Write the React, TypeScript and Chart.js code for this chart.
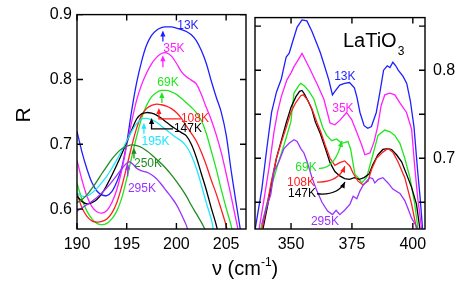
import React, { useEffect, useRef } from "react";
import { Chart, registerables } from "chart.js";
Chart.register(...registerables);

const FONT = '"Liberation Sans", Arial, Helvetica, sans-serif';

// ---- axis ticks ----
const leftXTicks = [190, 195, 200, 205];
const leftYTicks = [0.6, 0.7, 0.8, 0.9];
const rightXTicks = [350, 375, 400];
const rightYLabels = [0.7, 0.8];
const rightYMarks = [0.65, 0.7, 0.75, 0.8, 0.85];

// ---- colours per temperature ----
const C13 = "#1f1fff";
const C35 = "#ff1fff";
const C69 = "#1fe61f";
const C108 = "#ff1f1f";
const C147 = "#000000";
const C195 = "#1fe6ff";
const C250 = "#1f8c1f";
const C295 = "#9933ff";

// ---- left panel (190-207 cm-1) ----
const L13 = [[190.0,0.72],[190.5,0.688],[191.0,0.662],[191.5,0.641],[192.0,0.628],[192.5,0.622],[193.0,0.621],[193.5,0.627],[194.0,0.642],[194.5,0.664],[195.0,0.702],[195.5,0.752],[196.0,0.795],[196.5,0.828],[197.0,0.853],[197.5,0.868],[198.0,0.876],[198.5,0.88],[199.0,0.881],[199.5,0.881],[200.0,0.879],[200.5,0.877],[201.0,0.874],[201.5,0.869],[202.0,0.86],[202.5,0.845],[203.0,0.825],[203.5,0.798],[204.0,0.773],[204.5,0.75],[205.0,0.715],[205.5,0.66],[206.0,0.61],[206.5,0.562]];
const L35 = [[190.0,0.675],[190.5,0.645],[191.0,0.62],[191.5,0.604],[192.0,0.596],[192.5,0.594],[193.0,0.598],[193.5,0.61],[194.0,0.63],[194.5,0.66],[195.0,0.698],[195.5,0.735],[196.0,0.768],[196.5,0.792],[197.0,0.81],[197.5,0.824],[198.0,0.834],[198.5,0.84],[199.0,0.841],[199.5,0.836],[200.0,0.825],[200.5,0.812],[201.0,0.804],[201.5,0.799],[202.0,0.793],[202.5,0.777],[203.0,0.757],[203.5,0.738],[204.0,0.715],[204.5,0.688],[205.0,0.655],[205.5,0.62],[206.0,0.583],[206.3,0.562]];
const L69 = [[190.0,0.64],[190.5,0.615],[191.0,0.597],[191.5,0.585],[192.0,0.578],[192.5,0.576],[193.0,0.578],[193.5,0.585],[194.0,0.597],[194.5,0.617],[195.0,0.647],[195.5,0.68],[196.0,0.712],[196.5,0.74],[197.0,0.76],[197.5,0.773],[198.0,0.78],[198.5,0.783],[199.0,0.783],[199.5,0.781],[200.0,0.777],[200.5,0.771],[201.0,0.764],[201.5,0.757],[202.0,0.749],[202.5,0.737],[203.0,0.717],[203.5,0.69],[204.0,0.662],[204.5,0.631],[205.0,0.602],[205.5,0.575],[205.7,0.562]];
const L108 = [[190.0,0.625],[190.5,0.602],[191.0,0.589],[191.5,0.582],[192.0,0.58],[192.5,0.581],[193.0,0.585],[193.5,0.594],[194.0,0.61],[194.5,0.635],[195.0,0.665],[195.5,0.697],[196.0,0.725],[196.5,0.745],[197.0,0.755],[197.5,0.76],[198.0,0.762],[198.5,0.761],[199.0,0.759],[199.5,0.755],[200.0,0.749],[200.5,0.74],[201.0,0.728],[201.5,0.717],[202.0,0.705],[202.5,0.688],[203.0,0.668],[203.5,0.645],[204.0,0.624],[204.5,0.6],[205.0,0.575],[205.2,0.562]];
const L147 = [[190.0,0.62],[190.5,0.612],[191.0,0.608],[191.5,0.61],[192.0,0.615],[192.5,0.624],[193.0,0.637],[193.5,0.652],[194.0,0.668],[194.5,0.685],[195.0,0.703],[195.5,0.722],[196.0,0.739],[196.5,0.747],[197.0,0.749],[197.5,0.748],[198.0,0.745],[198.5,0.74],[199.0,0.734],[199.5,0.728],[200.0,0.723],[200.5,0.718],[201.0,0.713],[201.5,0.7],[202.0,0.68],[202.5,0.655],[203.0,0.63],[203.5,0.602],[204.0,0.576],[204.2,0.562]];
const L195 = [[190.0,0.625],[190.5,0.62],[191.0,0.62],[191.5,0.625],[192.0,0.632],[192.5,0.641],[193.0,0.651],[193.5,0.663],[194.0,0.676],[194.5,0.69],[195.0,0.705],[195.5,0.72],[196.0,0.732],[196.5,0.739],[197.0,0.74],[197.5,0.738],[198.0,0.734],[198.5,0.728],[199.0,0.722],[199.5,0.716],[200.0,0.71],[200.5,0.705],[201.0,0.697],[201.5,0.683],[202.0,0.663],[202.5,0.638],[203.0,0.61],[203.5,0.585],[203.8,0.562]];
const L250 = [[190.0,0.61],[190.5,0.615],[191.0,0.622],[191.5,0.632],[192.0,0.643],[192.5,0.655],[193.0,0.666],[193.5,0.677],[194.0,0.686],[194.5,0.693],[195.0,0.697],[195.5,0.699],[196.0,0.698],[196.5,0.695],[197.0,0.69],[197.5,0.684],[198.0,0.677],[198.5,0.67],[199.0,0.662],[199.5,0.653],[200.0,0.643],[200.5,0.632],[201.0,0.62],[201.5,0.606],[202.0,0.593],[202.5,0.58],[203.0,0.565]];
const L295 = [[190.0,0.597],[190.5,0.602],[191.0,0.607],[191.5,0.612],[192.0,0.618],[192.5,0.625],[193.0,0.633],[193.5,0.642],[194.0,0.652],[194.5,0.662],[195.0,0.671],[195.3,0.673],[195.7,0.668],[196.0,0.663],[196.5,0.659],[197.0,0.657],[197.5,0.653],[198.0,0.647],[198.5,0.638],[199.0,0.628],[199.5,0.618],[200.0,0.607],[200.5,0.592],[201.0,0.575],[201.2,0.565]];

// ---- right panel (335-405 cm-1) ----
const R13 = [[335.3,0.62],[338,0.665],[340,0.71],[342,0.752],[344,0.775],[346,0.79],[348,0.815],[349.2,0.819],[350.4,0.83],[352.5,0.849],[354.5,0.857],[356.5,0.856],[358.6,0.844],[360.6,0.83],[362,0.82],[363.5,0.807],[365.5,0.789],[367,0.772],[368,0.776],[370,0.783],[372,0.785],[374,0.786],[376,0.78],[377,0.77],[378.3,0.752],[380,0.737],[381.5,0.734],[383,0.736],[385,0.752],[386.5,0.775],[388,0.8],[389.5,0.805],[390.6,0.803],[391.8,0.809],[393,0.805],[394,0.8],[396,0.793],[397.5,0.785],[399,0.765],[400.5,0.735],[402,0.685],[403,0.655],[404,0.62]];
const R35 = [[336.9,0.62],[339,0.655],[341,0.69],[343,0.73],[344.5,0.753],[346,0.77],[348.3,0.789],[350,0.797],[351.2,0.804],[353,0.812],[354.5,0.819],[356,0.811],[358,0.8],[360.6,0.785],[363.5,0.767],[366,0.74],[368,0.738],[370,0.743],[372.8,0.752],[374.9,0.744],[376.9,0.73],[379,0.715],[380.3,0.704],[382.4,0.706],[384,0.718],[385.5,0.735],[387,0.76],[388.5,0.772],[390.6,0.774],[392.6,0.772],[394.7,0.763],[397.4,0.752],[399.5,0.733],[400.8,0.69],[402,0.655],[403.6,0.62]];
const R69 = [[337.6,0.62],[340,0.648],[343,0.678],[345,0.697],[347.1,0.715],[349.9,0.741],[351.2,0.774],[353.3,0.783],[354,0.785],[355.5,0.782],[357.4,0.776],[359.4,0.767],[361.5,0.748],[363,0.735],[364.6,0.726],[366.7,0.72],[368.7,0.722],[370.8,0.717],[373.4,0.719],[374.5,0.71],[376.2,0.682],[377.5,0.678],[379,0.672],[381,0.678],[383.6,0.704],[385.7,0.726],[388.5,0.732],[390.6,0.73],[392.6,0.726],[394.7,0.717],[396.7,0.7],[398.8,0.678],[400.8,0.648],[402.1,0.62]];
const R108 = [[338.1,0.62],[340,0.645],[342,0.675],[344,0.7],[346,0.718],[348,0.735],[349.9,0.752],[351.9,0.763],[354,0.771],[355,0.772],[356.6,0.767],[358.6,0.756],[360.6,0.741],[362.2,0.73],[364,0.715],[366,0.7],[368,0.692],[370,0.695],[372,0.697],[374.2,0.691],[375.5,0.683],[377.5,0.674],[379.5,0.67],[381.6,0.674],[383,0.687],[385.1,0.7],[387.7,0.707],[389.8,0.711],[391.8,0.707],[393.9,0.696],[396.7,0.678],[399.5,0.648],[401.5,0.62]];
const R147 = [[338.5,0.62],[340.5,0.648],[342,0.672],[344,0.7],[346,0.72],[348,0.74],[350,0.758],[352,0.77],[353.5,0.776],[354.5,0.777],[355.5,0.773],[357,0.765],[358.6,0.755],[360,0.741],[362,0.728],[364,0.712],[366,0.695],[368,0.685],[370,0.68],[372,0.677],[374,0.676],[376,0.678],[378,0.676],[380,0.678],[382,0.682],[383.6,0.693],[385.7,0.704],[387.7,0.71],[389.8,0.711],[391.3,0.71],[393.3,0.704],[395.4,0.696],[397.4,0.682],[399.5,0.667],[401.5,0.648],[402.9,0.62]];
const R295 = [[338,0.625],[340,0.645],[341.7,0.659],[343,0.685],[345,0.696],[347.1,0.711],[349.2,0.717],[351.2,0.721],[352.5,0.719],[354,0.711],[355.3,0.706],[356.6,0.696],[358.6,0.678],[360.6,0.663],[362.7,0.65],[365,0.64],[367,0.636],[368.5,0.641],[370,0.636],[372,0.641],[374.2,0.648],[375.5,0.657],[377,0.654],[378.3,0.663],[379.5,0.669],[381,0.674],[382.4,0.678],[383.5,0.677],[384.4,0.672],[385.8,0.676],[387.7,0.678],[389.8,0.672],[391.8,0.665],[394.7,0.66],[396.7,0.652],[398,0.643],[399.5,0.632],[400.8,0.626],[402,0.62]];

// ---- annotations (data coordinates) ----
const leftNotes = [
  { t: "13K", c: C13, x: 201.16, y: 0.883, ax: 198.64, tail: 0.8587, tip: 0.8755 },
  { t: "35K", c: C35, x: 199.75, y: 0.848, ax: 198.64, tail: 0.8188, tip: 0.8372 },
  { t: "69K", c: C69, x: 199.15, y: 0.7943, ax: 198.54, tail: 0.7637, tip: 0.7806 },
  { t: "108K", c: C108, x: 201.86, y: 0.7392, ax: 198.24, tail: 0.7392, tip: 0.756, hx: 200.45 },
  { t: "147K", c: C147, x: 201.16, y: 0.7239, ax: 197.5, tail: 0.7239, tip: 0.7407, hx: 199.65 },
  { t: "195K", c: C195, x: 197.9, y: 0.704, ax: 196.73, tail: 0.7162, tip: 0.7331 },
  { t: "250K", c: C250, x: 197.14, y: 0.6703, ax: 195.73, tail: 0.678, tip: 0.6948 },
  { t: "295K", c: C295, x: 196.53, y: 0.632, ax: 195.1, tail: 0.6504, tip: 0.6703 },
];
const rightNotes = [
  { t: "13K", c: C13, x: 372.1, y: 0.793 },
  { t: "35K", c: C35, x: 371.3, y: 0.7563 },
  { t: "69K", c: C69, x: 356.15, y: 0.6897, p0: [361.48, 0.6886], pc: [368.0, 0.6874], p1: [370.9, 0.7197] },
  { t: "108K", c: C108, x: 354.1, y: 0.6725, p0: [360.66, 0.673], pc: [369.26, 0.6719], p1: [372.13, 0.6908] },
  { t: "147K", c: C147, x: 354.5, y: 0.6603, p0: [360.66, 0.6597], pc: [369.26, 0.6574], p1: [372.13, 0.673] },
  { t: "295K", c: C295, x: 363.9, y: 0.6281 },
];
const compoundLabel = { x: 371.3, y: 0.833 };

function head(ctx: CanvasRenderingContext2D, x: number, y: number, ang: number, color: string) {
  const L = 6, W = 2.6;
  ctx.save();
  ctx.translate(x, y);
  ctx.rotate(ang);
  ctx.fillStyle = color;
  ctx.beginPath();
  ctx.moveTo(0, 0);
  ctx.lineTo(-L, -W);
  ctx.lineTo(-L, W);
  ctx.closePath();
  ctx.fill();
  ctx.restore();
}

function makeDeco(xMarks: number[], yMarks: number[], drawNotes: (chart: any) => void) {
  return {
    id: "deco",
    afterDatasetsDraw(chart: any) {
      const { ctx, chartArea: a, scales } = chart;
      ctx.save();
      ctx.strokeStyle = "#000";
      ctx.lineWidth = 1.4;
      ctx.strokeRect(a.left, a.top, a.right - a.left, a.bottom - a.top);
      const T = 6;
      ctx.beginPath();
      for (const v of xMarks) {
        const p = scales.x.getPixelForValue(v);
        ctx.moveTo(p, a.bottom); ctx.lineTo(p, a.bottom - T);
        ctx.moveTo(p, a.top); ctx.lineTo(p, a.top + T);
      }
      for (const v of yMarks) {
        const p = scales.y.getPixelForValue(v);
        ctx.moveTo(a.left, p); ctx.lineTo(a.left + T, p);
        ctx.moveTo(a.right, p); ctx.lineTo(a.right - T, p);
      }
      ctx.stroke();
      drawNotes(chart);
      ctx.restore();
    },
  };
}

function drawLeftNotes(chart: any) {
  const { ctx, scales } = chart;
  const X = (v: number) => scales.x.getPixelForValue(v);
  const Y = (v: number) => scales.y.getPixelForValue(v);
  ctx.font = `12px ${FONT}`;
  ctx.textAlign = "center";
  ctx.textBaseline = "middle";
  for (const n of leftNotes) {
    ctx.fillStyle = n.c;
    ctx.fillText(n.t, X(n.x), Y(n.y));
    ctx.strokeStyle = n.c;
    ctx.lineWidth = 1.3;
    ctx.beginPath();
    if (n.hx !== undefined) {
      ctx.moveTo(X(n.hx), Y(n.tail));
      ctx.lineTo(X(n.ax), Y(n.tail));
    } else {
      ctx.moveTo(X(n.ax), Y(n.tail));
    }
    ctx.lineTo(X(n.ax), Y(n.tip) + 4);
    ctx.stroke();
    head(ctx, X(n.ax), Y(n.tip), -Math.PI / 2, n.c);
  }
}

function drawRightNotes(chart: any) {
  const { ctx, scales } = chart;
  const X = (v: number) => scales.x.getPixelForValue(v);
  const Y = (v: number) => scales.y.getPixelForValue(v);
  ctx.font = `12px ${FONT}`;
  ctx.textAlign = "center";
  ctx.textBaseline = "middle";
  for (const n of rightNotes) {
    ctx.fillStyle = n.c;
    ctx.fillText(n.t, X(n.x), Y(n.y));
    if (n.p0) {
      const x0 = X(n.p0[0]), y0 = Y(n.p0[1]);
      const xc = X(n.pc[0]), yc = Y(n.pc[1]);
      const x1 = X(n.p1[0]), y1 = Y(n.p1[1]);
      ctx.strokeStyle = n.c;
      ctx.lineWidth = 1.3;
      ctx.beginPath();
      ctx.moveTo(x0, y0);
      ctx.quadraticCurveTo(xc, yc, x1, y1);
      ctx.stroke();
      head(ctx, x1, y1, Math.atan2(y1 - yc, x1 - xc), n.c);
    }
  }
  ctx.fillStyle = "#000";
  ctx.textAlign = "left";
  ctx.font = `20px ${FONT}`;
  const lx = X(compoundLabel.x), ly = Y(compoundLabel.y);
  ctx.fillText("LaTiO", lx, ly);
  const w = ctx.measureText("LaTiO").width;
  ctx.font = `12px ${FONT}`;
  ctx.fillText("3", lx + w + 1, ly + 11);
}

const ds = (d: number[][], c: string, label: string, tension: number) => ({
  label,
  data: d.map(([x, y]) => ({ x, y })),
  borderColor: c,
  borderWidth: 1.3,
  pointRadius: 0,
  fill: false,
  tension,
});

export default function App() {
  const leftRef = useRef<HTMLCanvasElement>(null);
  const rightRef = useRef<HTMLCanvasElement>(null);

  useEffect(() => {
    const tickFont = { family: FONT, size: 16 };
    const left = new Chart(leftRef.current!, {
      type: "line",
      data: {
        datasets: [
          ds(L295, C295, "295K", 0.35),
          ds(L250, C250, "250K", 0.35),
          ds(L195, C195, "195K", 0.35),
          ds(L147, C147, "147K", 0.35),
          ds(L108, C108, "108K", 0.35),
          ds(L69, C69, "69K", 0.35),
          ds(L35, C35, "35K", 0.35),
          ds(L13, C13, "13K", 0.35),
        ],
      },
      options: {
        responsive: false,
        animation: false,
        events: [],
        layout: { padding: { left: 0, right: 217, top: 13, bottom: 0 } },
        plugins: { legend: { display: false }, tooltip: { enabled: false } },
        scales: {
          x: {
            type: "linear",
            min: 190,
            max: 207,
            grid: { display: false, drawTicks: false },
            border: { display: false },
            ticks: { font: tickFont, color: "#000", padding: 6, maxRotation: 0 },
            afterBuildTicks: (s: any) => { s.ticks = leftXTicks.map((v) => ({ value: v })); },
            afterFit: (s: any) => { s.height = 62; },
          },
          y: {
            type: "linear",
            min: 0.5694,
            max: 0.9,
            grid: { display: false, drawTicks: false },
            border: { display: false },
            ticks: { font: tickFont, color: "#000", padding: 5, callback: (v: any) => Number(v).toFixed(1) },
            afterBuildTicks: (s: any) => { s.ticks = leftYTicks.map((v) => ({ value: v })); },
            afterFit: (s: any) => { s.width = 77; },
          },
        },
      },
      plugins: [makeDeco(leftXTicks, leftYTicks, drawLeftNotes)],
    } as any);

    const right = new Chart(rightRef.current!, {
      type: "line",
      data: {
        datasets: [
          ds(R295, C295, "295K", 0),
          ds(R108, C108, "108K", 0),
          ds(R147, C147, "147K", 0),
          ds(R69, C69, "69K", 0),
          ds(R35, C35, "35K", 0),
          ds(R13, C13, "13K", 0),
        ],
      },
      options: {
        responsive: false,
        animation: false,
        events: [],
        layout: { padding: { left: 255, right: 0, top: 13, bottom: 0 } },
        plugins: { legend: { display: false }, tooltip: { enabled: false } },
        scales: {
          x: {
            type: "linear",
            min: 335.2,
            max: 405,
            grid: { display: false, drawTicks: false },
            border: { display: false },
            ticks: { font: tickFont, color: "#000", padding: 6, maxRotation: 0 },
            afterBuildTicks: (s: any) => { s.ticks = rightXTicks.map((v) => ({ value: v })); },
            afterFit: (s: any) => { s.height = 62; },
          },
          y: {
            type: "linear",
            position: "right",
            min: 0.6197,
            max: 0.8597,
            grid: { display: false, drawTicks: false },
            border: { display: false },
            ticks: { font: tickFont, color: "#000", padding: 8, callback: (v: any) => Number(v).toFixed(1) },
            afterBuildTicks: (s: any) => { s.ticks = rightYLabels.map((v) => ({ value: v })); },
            afterFit: (s: any) => { s.width = 38; },
          },
        },
      },
      plugins: [makeDeco(rightXTicks, rightYMarks, drawRightNotes)],
    } as any);

    return () => {
      left.destroy();
      right.destroy();
    };
  }, []);

  const abs: React.CSSProperties = { position: "absolute", left: 0, top: 0 };
  return (
    <div style={{ position: "fixed", left: 0, top: 0, width: 463, height: 291, background: "#fff", fontFamily: FONT }}>
      <canvas ref={leftRef} width={463} height={291} style={{ ...abs, width: 463, height: 291 }} />
      <canvas ref={rightRef} width={463} height={291} style={{ ...abs, width: 463, height: 291 }} />
      <div style={{ position: "absolute", left: 13, top: 104, width: 20, height: 22, fontSize: 21, lineHeight: "22px", textAlign: "center", transform: "rotate(-90deg)", color: "#000" }}>R</div>
      <div style={{ position: "absolute", left: 212, top: 257, fontSize: 20, lineHeight: "22px", whiteSpace: "nowrap", color: "#000" }}>
        ν (cm<span style={{ fontSize: 12, position: "relative", top: -9 }}>-1</span>)
      </div>
    </div>
  );
}
